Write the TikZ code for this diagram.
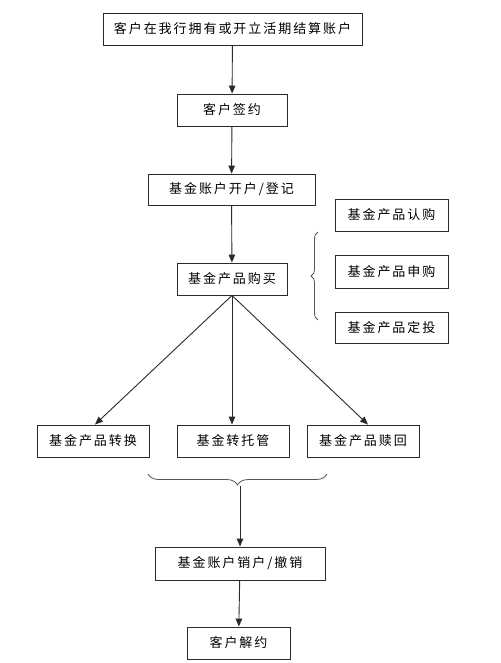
\documentclass[tikz,border=0pt]{standalone}
\usepackage{fontspec}
\newfontfamily\cjk[LetterSpace=15]{Noto Sans CJK SC}
\usetikzlibrary{arrows.meta,positioning,decorations.pathreplacing,calc}
\definecolor{flowLine}{HTML}{2A2A2A}
\definecolor{braceLine}{HTML}{555555}
\tikzset{
    stepbox/.style={rectangle,draw=flowLine,line width=0.9pt,fill=white,minimum height=32pt,inner sep=2pt,font=\cjk\fontsize{13pt}{15pt}\selectfont},
    arrow/.style={-{Triangle[length=8pt,width=6.5pt]},line width=0.9pt,flowLine},
    bracket/.style={decorate,line width=0.8pt,braceLine}
}

\begin{document}
\begin{tikzpicture}[x=1pt,y=-1pt]
  \fill[white] (0,0) rectangle (500,663);
  \useasboundingbox (0,0) rectangle (500,663);

  % main column
  \node[stepbox,minimum width=259pt] at (232.5,29) (acct) {客户在我行拥有或开立活期结算账户};
  \node[stepbox,minimum width=110pt] at (232,110) (sign) {客户签约};
  \node[stepbox,minimum width=167pt,minimum height=31pt] at (231.5,189.5) (open) {基金账户开户/登记};
  \node[stepbox,minimum width=110pt] at (232,279) (buy) {基金产品购买};

  % purchase types
  \node[stepbox,minimum width=113pt] at (391.5,215) (sub1) {基金产品认购};
  \node[stepbox,minimum width=113pt,minimum height=33pt] at (391.5,271.5) (sub2) {基金产品申购};
  \node[stepbox,minimum width=113pt,minimum height=31pt] at (391.5,327.5) (sub3) {基金产品定投};

  % after purchase
  \node[stepbox,minimum width=112pt] at (93,441) (conv) {基金产品转换};
  \node[stepbox,minimum width=112pt] at (233,441) (trans) {基金转托管};
  \node[stepbox,minimum width=112pt] at (363,441) (redeem) {基金产品赎回};

  % closing
  \node[stepbox,minimum width=170pt,minimum height=33pt] at (240,563.5) (close) {基金账户销户/撤销};
  \node[stepbox,minimum width=103pt] at (238.5,643) (quit) {客户解约};

  % arrows
  \draw[arrow] (acct) -- (sign);
  \draw[arrow] (sign) -- (open);
  \draw[arrow] (open) -- (buy);
  \draw[arrow] (buy.south) -- ([xshift=2pt]conv.north);
  \draw[arrow] (buy.south) -- ([xshift=-1pt]trans.north);
  \draw[arrow] (buy.south) -- ([xshift=5pt]redeem.north);

  % braces
  \draw[bracket,decoration={brace,amplitude=7pt}] (318,320) -- (318,232);
  \draw[bracket,decoration={brace,amplitude=11pt}] (327,474) -- (148,474);
  \coordinate (btip) at (240,486);
  \draw[arrow] (btip) -- (close);
  \draw[arrow] (close) -- (quit);
\end{tikzpicture}
\end{document}
